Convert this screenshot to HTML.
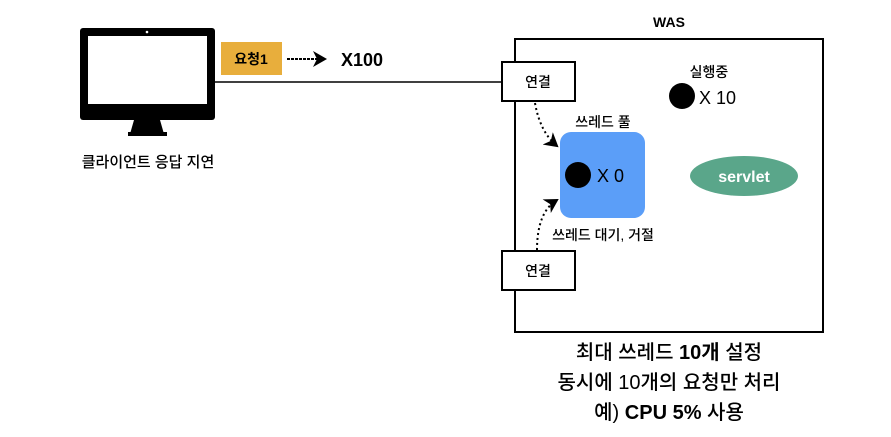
<!DOCTYPE html>
<html><head><meta charset="utf-8"><style>
body{margin:0;width:891px;height:432px;background:#fff;overflow:hidden;font-family:"Liberation Sans","Noto Sans CJK KR",sans-serif}
</style></head><body>
<svg width="891" height="432" xmlns="http://www.w3.org/2000/svg" font-family="Liberation Sans, Noto Sans CJK KR, sans-serif">
<defs><marker id="a" markerWidth="8" markerHeight="8" refX="6" refY="4" orient="auto"><path d="M0,0 L7,4 L0,8 L2,4z" fill="#000"/></marker></defs>
<rect x="80" y="28" width="135" height="92" rx="3" fill="#000"/>
<rect x="88" y="36" width="119" height="68" fill="#fff"/>
<circle cx="147" cy="32" r="1.3" fill="#fff"/>
<path d="M134,120 L160,120 L164,134 L130,134z" fill="#000"/>
<rect x="128" y="132" width="39" height="4" fill="#000"/>
<text x="148" y="167" font-size="15" font-weight="500" text-anchor="middle">클라이언트 응답 지연</text>
<line x1="215" y1="82" x2="502" y2="82" stroke="#000" stroke-width="1.5"/>
<rect x="221" y="42" width="61" height="33" fill="#e8ae3c"/>
<text x="251" y="64" font-size="14" font-weight="bold" text-anchor="middle">요청1</text>
<line x1="287" y1="59" x2="325" y2="59" stroke="#000" stroke-width="2" stroke-dasharray="3,1" marker-end="url(#a)"/>
<text x="341" y="66" font-size="18" font-weight="bold">X100</text>
<text x="669" y="27" font-size="14" font-weight="bold" text-anchor="middle">WAS</text>
<rect x="515" y="39" width="308" height="293" fill="none" stroke="#000" stroke-width="2"/>
<rect x="502" y="62" width="73" height="39" fill="#fff" stroke="#000" stroke-width="2"/>
<text x="538" y="87" font-size="14" font-weight="500" text-anchor="middle">연결</text>
<rect x="502" y="251" width="73" height="39" fill="#fff" stroke="#000" stroke-width="2"/>
<text x="538" y="276" font-size="14" font-weight="500" text-anchor="middle">연결</text>
<text x="709" y="77" font-size="14" font-weight="500" text-anchor="middle">실행중</text>
<circle cx="682" cy="96" r="13" fill="#000"/>
<text x="699" y="104" font-size="18" font-weight="500">X 10</text>
<text x="603" y="127" font-size="14" font-weight="500" text-anchor="middle">쓰레드 풀</text>
<rect x="560" y="132" width="85" height="86" rx="11" fill="#5b9ef8"/>
<circle cx="578" cy="175" r="13" fill="#000"/>
<text x="597" y="182" font-size="18" font-weight="500">X 0</text>
<ellipse cx="744" cy="176" rx="54" ry="20" fill="#5aa68a"/>
<text x="744" y="182" font-size="16" font-weight="bold" fill="#fff" text-anchor="middle">servlet</text>
<path d="M535,103 Q540,132 557,146" fill="none" stroke="#000" stroke-width="2" stroke-dasharray="2,3" marker-end="url(#a)"/>
<path d="M537,250 Q537,212 557,200" fill="none" stroke="#000" stroke-width="2" stroke-dasharray="2,3" marker-end="url(#a)"/>
<text x="603" y="240" font-size="14" font-weight="500" text-anchor="middle">쓰레드 대기, 거절</text>
<text x="669" y="359" font-size="20" font-weight="500" text-anchor="middle">최대 쓰레드 <tspan font-weight="bold">10개</tspan> 설정</text>
<text x="669" y="389" font-size="20" font-weight="500" text-anchor="middle">동시에 10개의 요청만 처리</text>
<text x="669" y="419" font-size="20" font-weight="500" text-anchor="middle">예) <tspan font-weight="bold">CPU 5%</tspan> 사용</text>
</svg>
</body></html>
